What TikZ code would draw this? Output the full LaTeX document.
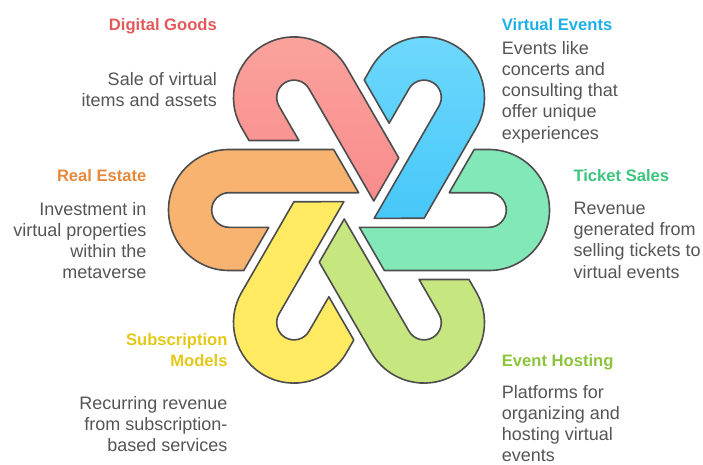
\documentclass[tikz,border=0pt]{standalone}
\usepackage{fontspec}
\setmainfont{Liberation Sans}
\definecolor{edgegray}{HTML}{4D4D4D}
\definecolor{bodygray}{HTML}{555555}
\definecolor{pinkTop}{HTML}{FBA39D}
\definecolor{pinkBot}{HTML}{F88C8D}
\definecolor{blueTop}{HTML}{70D9FC}
\definecolor{blueBot}{HTML}{47C7F9}
\definecolor{greenF}{HTML}{83E8B8}
\definecolor{limeF}{HTML}{C6E680}
\definecolor{yellowF}{HTML}{FFEA62}
\definecolor{orangeF}{HTML}{F9B370}
\definecolor{pinkT}{HTML}{E2595C}
\definecolor{blueT}{HTML}{1DB0E6}
\definecolor{orangeT}{HTML}{E5893B}
\definecolor{greenT}{HTML}{3CC47C}
\definecolor{yellowT}{HTML}{E3C818}
\definecolor{limeT}{HTML}{8CC43C}
\begin{document}
\begin{tikzpicture}[x=1pt,y=1pt,
  title/.style={font=\fontsize{16.6}{21.3}\selectfont\bfseries, inner sep=0pt},
  desc/.style={font=\fontsize{18}{21.2}\selectfont, text=bodygray, inner sep=0pt},
  hookstyle/.style={draw=edgegray, line width=1.6pt, line join=round},
  hook/.pic={\path[pic actions] (-25.35,60.5) -- (-130,60.5)
      arc[start angle=90,end angle=270,radius=60.5]
      -- (-115.2,-60.5) -- (-90.24,-17.3) -- (-130,-17.3)
      arc[start angle=270,end angle=90,radius=17.3]
      -- (-0.4,17.3) -- cycle;}]
\useasboundingbox (0,0) rectangle (703,464);
\coordinate (O) at (359,254);
% six interlocking hooks
\pic[hookstyle, fill=orangeF, rotate=0] at (O) {hook};
\pic[hookstyle, top color=pinkTop, bottom color=pinkBot, rotate=-60] at (O) {hook};
\pic[hookstyle, top color=blueTop, bottom color=blueBot, rotate=-120] at (O) {hook};
\pic[hookstyle, fill=greenF, rotate=180] at (O) {hook};
\pic[hookstyle, fill=limeF, rotate=120] at (O) {hook};
\pic[hookstyle, fill=yellowF, rotate=60] at (O) {hook};
% labels
\node[title, text=pinkT, anchor=north east] (dgt) at (217,446.1) {Digital Goods};
\node[desc, anchor=north east, align=right] (dgd) at (217,391.6) {Sale of virtual\\items and assets};
\node[title, text=orangeT, anchor=north east] (ret) at (146.7,294.6) {Real Estate};
\node[desc, anchor=north east, align=right] (red) at (146.7,262.1) {Investment in\\virtual properties\\within the\\metaverse};
\node[title, text=blueT, anchor=north west] (vet) at (501.7,446.1) {Virtual Events};
\node[desc, anchor=north west, align=left] (ved) at (501.7,423.0) {Events like\\concerts and\\consulting that\\offer unique\\experiences};
\node[title, text=greenT, anchor=north west] (tst) at (573.3,294.6) {Ticket Sales};
\node[desc, anchor=north west, align=left] (tsd) at (573.3,262.1) {Revenue\\generated from\\selling tickets to\\virtual events};
\node[title, text=yellowT, anchor=north east, align=right] (smt) at (227.7,131.1) {Subscription\\Models};
\node[desc, anchor=north east, align=right] (smd) at (227.7,67.8) {Recurring revenue\\from subscription-\\based services};
\node[title, text=limeT, anchor=north west] (eht) at (501.7,109.6) {Event Hosting};
\node[desc, anchor=north west, align=left] (ehd) at (501.7,79.0) {Platforms for\\organizing and\\hosting virtual\\events};
\end{tikzpicture}
\end{document}
